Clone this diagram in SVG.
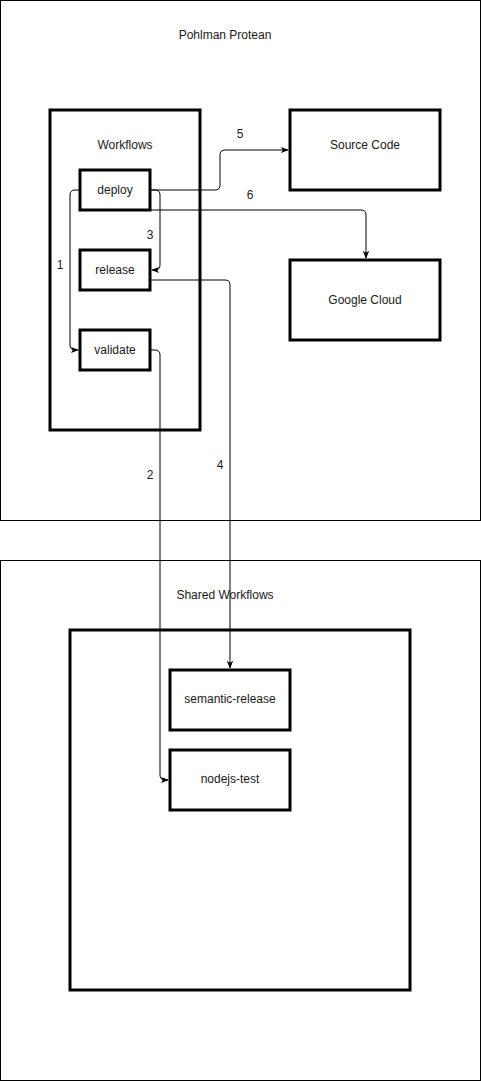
<svg xmlns="http://www.w3.org/2000/svg" width="481" height="1081" viewBox="0 0 481 1081">
<defs>
<style>
.c{fill:#fff;stroke:#000;stroke-width:1}
.b{fill:#fff;stroke:#000;stroke-width:3}
.t{font-family:"Liberation Sans",Arial,sans-serif;font-size:12px;fill:#1a1a1a;text-anchor:middle;dominant-baseline:central}
.e{fill:none;stroke:#000;stroke-width:1}
</style>
<marker id="a" viewBox="0 0 10 10" refX="9" refY="5" markerWidth="8" markerHeight="8" markerUnits="userSpaceOnUse" orient="auto">
<path d="M0,1 L10,5 L0,9 L2.5,5 Z" fill="#000"/>
</marker>
</defs>
<g id="pohlman"><rect class="c" x="0.5" y="0.5" width="480" height="520"/><text class="t" x="225" y="35">Pohlman Protean</text></g>
<g id="shared"><rect class="c" x="0.5" y="560.5" width="480" height="520"/><text class="t" x="225" y="595">Shared Workflows</text></g>
<g id="workflows"><rect class="b" x="50" y="110" width="150" height="320"/><text class="t" x="125" y="145">Workflows</text></g>
<g id="inner"><rect class="b" x="70" y="630" width="340" height="360"/></g>
<g id="source"><rect class="b" x="290" y="110" width="150" height="80"/><text class="t" x="365" y="145">Source Code</text></g>
<g id="google"><rect class="b" x="290" y="260" width="150" height="80"/><text class="t" x="365" y="300">Google Cloud</text></g>
<g id="deploy"><rect class="b" x="80" y="170" width="70" height="40"/><text class="t" x="115" y="190">deploy</text></g>
<g id="release"><rect class="b" x="80" y="250" width="70" height="40"/><text class="t" x="115" y="270">release</text></g>
<g id="validate"><rect class="b" x="80" y="330" width="70" height="40"/><text class="t" x="115" y="350">validate</text></g>
<g id="semrel"><rect class="b" x="170" y="670" width="120" height="60"/><text class="t" x="230" y="699">semantic-release</text></g>
<g id="nodejs"><rect class="b" x="170" y="750" width="120" height="60"/><text class="t" x="230" y="779">nodejs-test</text></g>
<g id="connectors">
<path class="e" d="M80,190 H75 Q70,190 70,195 V345 Q70,350 75,350 H78" marker-end="url(#a)"/>
<path class="e" d="M150,190 H155 Q160,190 160,195 V265 Q160,270 155,270 H152" marker-end="url(#a)"/>
<path class="e" d="M150,190 H215 Q220,190 220,185 V155 Q220,150 225,150 H288" marker-end="url(#a)"/>
<path class="e" d="M150,210 H361 Q366,210 366,215 V258" marker-end="url(#a)"/>
<path class="e" d="M150,280 H225 Q230,280 230,285 V668" marker-end="url(#a)"/>
<path class="e" d="M150,350 H155 Q160,350 160,355 V775 Q160,780 165,780 H168" marker-end="url(#a)"/>
<text class="t" x="60" y="265">1</text>
<text class="t" x="150" y="475">2</text>
<text class="t" x="150" y="235">3</text>
<text class="t" x="220" y="465">4</text>
<text class="t" x="240" y="134">5</text>
<text class="t" x="250" y="195">6</text>
</g>
</svg>
